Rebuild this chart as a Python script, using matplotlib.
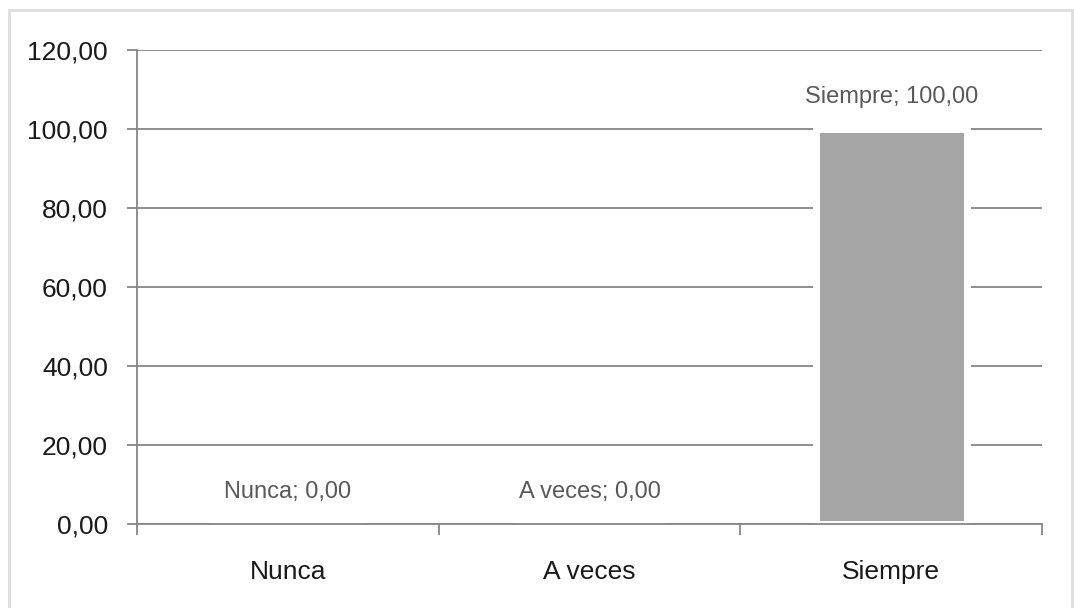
import matplotlib
matplotlib.use("Agg")
import matplotlib.pyplot as plt
from matplotlib.patches import Rectangle
import numpy as np

categories = ["Nunca", "A veces", "Siempre"]
values = [0.0, 0.0, 100.0]
yticks = [0, 20, 40, 60, 80, 100, 120]

plt.rcParams['font.family'] = ['Liberation Sans Narrow', 'Liberation Sans', 'DejaVu Sans']

def fmt(v):
    return f"{v:.2f}".replace(".", ",")

fig = plt.figure(figsize=(10.74, 6.08), dpi=100)
ax = fig.add_axes([137 / 1074, 1 - 524 / 608, (1042 - 137) / 1074, (524 - 50) / 608])

x = np.arange(len(categories))
bars = ax.bar(x, values, width=0.5, color="#A5A5A5", edgecolor="white",
              linewidth=5, zorder=3)

for xi, v, c in zip(x, values, categories):
    ax.annotate(f"{c}; {fmt(v)}", (xi, v), xytext=(0, 32), textcoords="offset pixels",
                ha="center", va="center", fontsize=17, color="#595959", zorder=4)

ax.set_xlim(-0.5, len(categories) - 0.5)
ax.set_ylim(0, 120)
ax.set_yticks(yticks)
ax.set_yticklabels([fmt(t) for t in yticks])
ax.set_xticks(x)
ax.set_xticklabels(categories)
ax.set_xticks(np.arange(len(categories) + 1) - 0.5, minor=True)

ax.grid(axis="y", color="#868686", linewidth=1.3, zorder=1)
ax.set_axisbelow(True)
for s in ["top", "right"]:
    ax.spines[s].set_visible(False)
for s in ["left", "bottom"]:
    ax.spines[s].set_color("#868686")
    ax.spines[s].set_linewidth(1.3)
    ax.spines[s].set_zorder(5)

ax.tick_params(axis="y", length=7, width=1.3, color="#868686", pad=14,
               labelsize=19, labelcolor="#1a1a1a")
ax.tick_params(axis="x", which="major", length=0, pad=26, labelsize=19,
               labelcolor="#1a1a1a")
ax.tick_params(axis="x", which="minor", length=8, width=1.3, color="#868686")

# light frame around the chart area
fig.patches.append(Rectangle((9 / 1074, -0.05), (1072 - 9) / 1074, 1.05 - 10 / 608,
                             transform=fig.transFigure, fill=False,
                             edgecolor="#DDDDDD", linewidth=2.0))

fig.savefig("out.png", dpi=100)
